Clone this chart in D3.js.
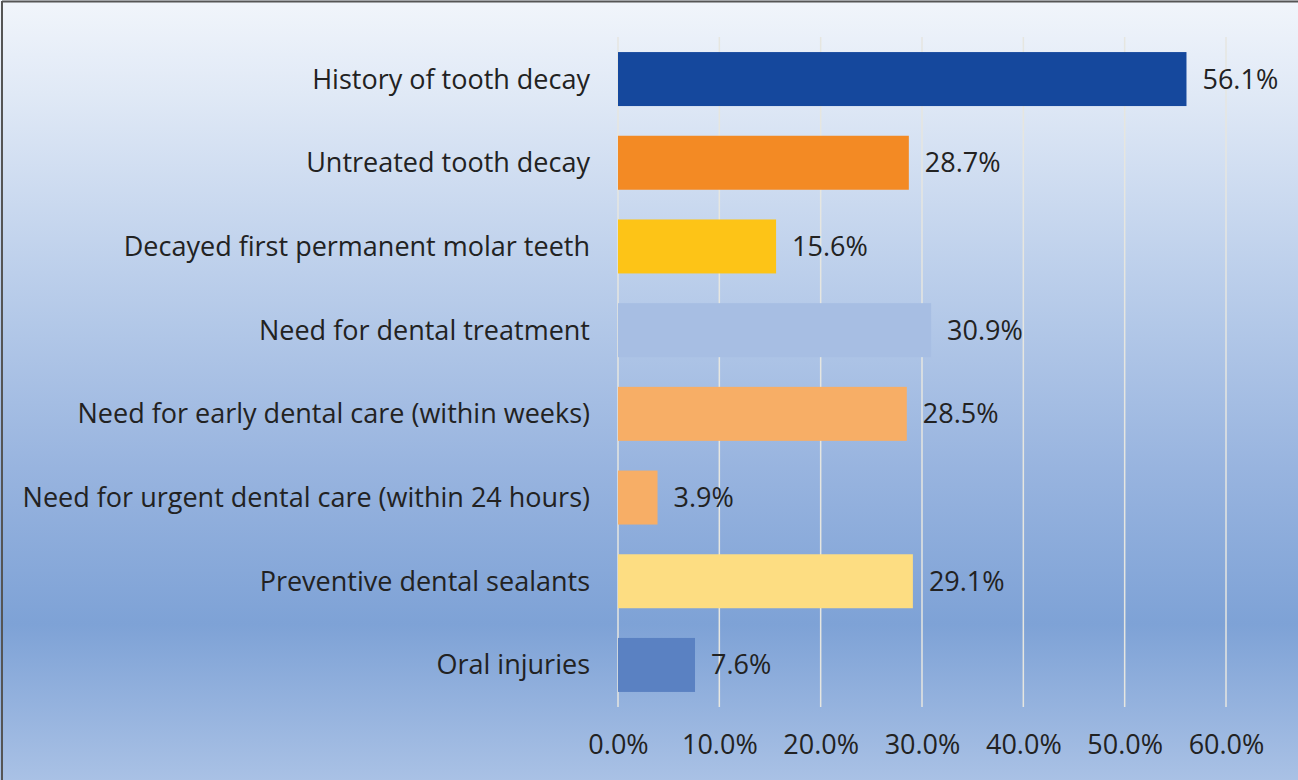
<!DOCTYPE html>
<html>
<head>
<meta charset="utf-8">
<script src="https://cdn.jsdelivr.net/npm/d3@7"></script>
<style>
  html, body { margin: 0; padding: 0; background: #ffffff; }
  svg { display: block; }
  text { font-family: "Open Sans", "Noto Sans", sans-serif; fill: #222222; }
</style>
</head>
<body>
<svg id="chart" width="1298" height="780"></svg>
<script>
// Oral health indicators, percent of children
const categories = [
  "History of tooth decay",
  "Untreated tooth decay",
  "Decayed first permanent molar teeth",
  "Need for dental treatment",
  "Need for early dental care (within weeks)",
  "Need for urgent dental care (within 24 hours)",
  "Preventive dental sealants",
  "Oral injuries"
];
const values = [56.1, 28.7, 15.6, 30.9, 28.5, 3.9, 29.1, 7.6];
const barColors = ["#15489d", "#f38a24", "#fdc417", "#a7bee3", "#f7ae66", "#f7ae66", "#fddd82", "#5a81c2"];
const tickValues = [0, 10, 20, 30, 40, 50, 60];

const svg = d3.select("#chart");
const W = 1298, H = 780;
const margin = { top: 37, right: 72, bottom: 73, left: 618 };
const fontSize = 27;

// Background gradient
const defs = svg.append("defs");
const grad = defs.append("linearGradient")
  .attr("id", "bg").attr("x1", 0).attr("y1", 0).attr("x2", 0).attr("y2", 1);
[
  [0, "#f1f5fb"],
  [0.12, "#e0e9f6"],
  [0.35, "#bccfeb"],
  [0.6, "#98b4df"],
  [0.8, "#7ea2d6"],
  [1, "#a9c1e5"]
].forEach(([o, c]) => grad.append("stop").attr("offset", o).attr("stop-color", c));

svg.append("rect").attr("x", 0).attr("y", 0).attr("width", W).attr("height", H)
  .attr("fill", "url(#bg)");

// Frame on left and top edges
svg.append("line").attr("x1", 2).attr("y1", 1.5).attr("x2", W).attr("y2", 1.5)
  .attr("stroke", "#555").attr("stroke-width", 2);
svg.append("line").attr("x1", 2).attr("y1", 1).attr("x2", 2).attr("y2", H)
  .attr("stroke", "#555").attr("stroke-width", 2);

const x = d3.scaleLinear().domain([0, 60]).range([margin.left, 1226]);
const y = d3.scaleBand().domain(categories).range([margin.top, H - margin.bottom])
  .paddingInner(0.355).paddingOuter(0.18);

// Vertical gridlines
svg.append("g").selectAll("line").data(tickValues).join("line")
  .attr("x1", d => x(d)).attr("x2", d => x(d))
  .attr("y1", margin.top).attr("y2", H - margin.bottom)
  .attr("stroke", "#e6e6e0").attr("stroke-width", 1.5);

// Bars
svg.append("g").selectAll("rect").data(values).join("rect")
  .attr("x", x(0))
  .attr("y", (d, i) => y(categories[i]))
  .attr("width", d => x(d) - x(0))
  .attr("height", y.bandwidth())
  .attr("fill", (d, i) => barColors[i]);

// Value labels
svg.append("g").selectAll("text").data(values).join("text")
  .attr("x", d => x(d) + 16)
  .attr("y", (d, i) => y(categories[i]) + y.bandwidth() / 2)
  .attr("dy", "0.35em")
  .attr("font-size", fontSize)
  .text(d => d.toFixed(1) + "%");

// Category labels
svg.append("g").selectAll("text").data(categories).join("text")
  .attr("x", 590)
  .attr("y", d => y(d) + y.bandwidth() / 2)
  .attr("dy", "0.35em")
  .attr("text-anchor", "end")
  .attr("font-size", fontSize)
  .text(d => d);

// X axis tick labels
const xAxis = d3.axisBottom(x).tickValues(tickValues)
  .tickFormat(d => d.toFixed(1) + "%").tickSize(0).tickPadding(0);
const gx = svg.append("g").attr("transform", `translate(0, 745)`).call(xAxis);
gx.select(".domain").remove();
gx.selectAll("text").attr("font-size", fontSize).attr("dy", "0.35em")
  .style("font-family", "'Open Sans', 'Noto Sans', sans-serif").attr("fill", "#222");
</script>
</body>
</html>
